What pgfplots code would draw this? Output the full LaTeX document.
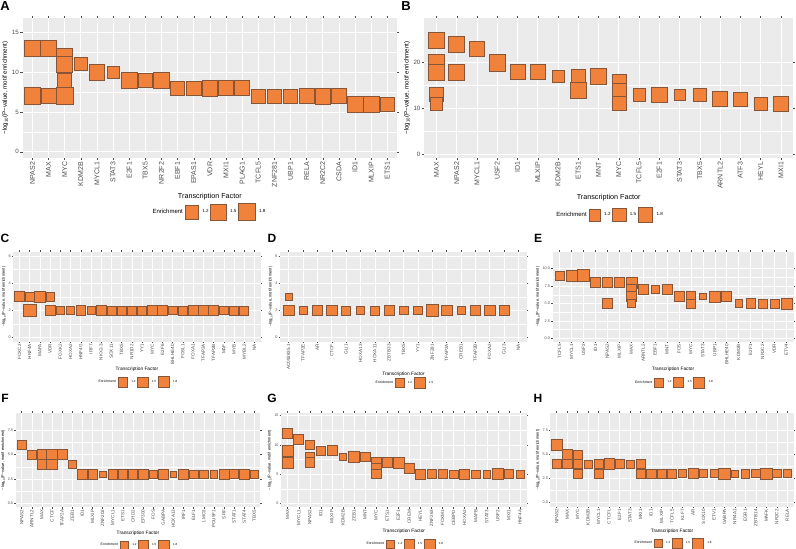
\documentclass[border=0pt]{standalone}
\usepackage{fontspec}
\setmainfont{Liberation Sans}
\usepackage{pgfplots}
\pgfplotsset{compat=1.18}
\definecolor{orc}{RGB}{241,130,60}
\definecolor{edgec}{RGB}{135,85,55}
\definecolor{bgc}{RGB}{235,235,235}
\definecolor{tickc}{RGB}{77,77,77}
\newcommand\ylab{−log\textsubscript{10}(P−value, motif enrichment)}
\pgfplotsset{
  panel/.style={
    scale only axis, clip=false,
    axis background/.style={fill=bgc},
    axis line style={draw=none},
    grid=both,
    major grid style={white, line width=0.6pt},
    minor grid style={white, line width=0.3pt},
    minor y tick num=1,
    tick align=outside,
    minor tick length=0pt,
    tick style={color=tickc, line width=0.4pt},
    xticklabel style={rotate=90, anchor=east, text=tickc, inner sep=1.5pt},
    yticklabel style={text=tickc, inner sep=1.5pt},
    xlabel={Transcription Factor}, ylabel={\ylab},
    legend columns=4,
    legend style={draw=none, fill=none, anchor=center,
      /tikz/every odd column/.append style={column sep=2pt}},
  },
  topp/.style={panel, major tick length=2.2pt,
    xticklabel style={font=\fontsize{7}{7}\selectfont},
    yticklabel style={font=\fontsize{6.2}{6.2}\selectfont},
    xlabel style={font=\fontsize{7.2}{7.2}\selectfont, inner sep=2pt, yshift=-2pt},
    ylabel style={font=\fontsize{6.2}{6.2}\selectfont, inner sep=2pt},
    legend style={font=\fontsize{4.5}{4.5}\selectfont}},
  botp/.style={panel, major tick length=1.3pt,
    major grid style={white, line width=0.45pt},
    minor grid style={white, line width=0.22pt},
    xticklabel style={font=\fontsize{4.6}{4.6}\selectfont, inner sep=1pt},
    yticklabel style={font=\fontsize{3.8}{3.8}\selectfont, inner sep=1pt},
    xlabel style={font=\fontsize{4.8}{4.8}\selectfont, inner sep=1.5pt},
    ylabel style={font=\fontsize{4}{4}\selectfont, inner sep=1.5pt},
    legend style={font=\fontsize{3}{3}\selectfont}},
  sq/.style={scatter, only marks, mark=square*, forget plot, line width=0.45pt,
    scatter/use mapped color={draw=edgec, fill=orc},
    visualization depends on={\thisrow{m}\as\ms},
    scatter/@pre marker code/.append style={/tikz/mark size=\ms pt}},
  lg/.style={only marks, mark=square*, mark size=#1, mark options={draw=edgec, fill=orc, line width=0.45pt}},
}
\begin{document}
\begin{tikzpicture}
\useasboundingbox (0,0) rectangle (796pt,-549pt);
% ---------------- A
\begin{axis}[topp, at={(22.7pt,-18pt)}, anchor=north west, width=374.3pt, height=140pt,
  xmin=-0.6, xmax=22.6, ymin=-0.79, ymax=16.8,
  xtick={0,...,22}, xticklabels={NPAS2,MAX,MYC,KDM2B,MYCL1,STAT3,E2F1,TBX5,NR2F2,EBF1,EPAS1,VDR,MXI1,PLAG1,TCFL5,ZNF281,UBP1,RELA,NR2C2,CSDA,ID1,MLXIP,ETS1},
  ytick={0,5,10,15}, yticklabels={0,5,10,15},
  legend style={at={(0.495,-0.386)}}]
\addlegendimage{empty legend}\addlegendentry{\fontsize{6}{6}\selectfont Enrichment}
\addlegendimage{lg=6.8pt}\addlegendentry{1.2}
\addlegendimage{lg=7.7pt}\addlegendentry{1.5}
\addlegendimage{lg=8.4pt}\addlegendentry{1.8}
\addplot[sq] table[x=x,y=y]{
x y m
0 13 8.3
0 7 8.3
1 13 7.8
1 7 7.7
2 12 8
2 11 8
2 9 7
2 7 8.3
3 11 6.5
4 10 7.8
5 10 6.2
6 9 8
7 9 7
8 9 8
9 8 7
10 8 7.2
11 8 7.8
12 8 7.5
13 8 7.5
14 7 7
15 7 7
16 7 7.2
17 7 7.3
18 7 7.8
19 7 7.3
20 6 7.8
21 6 7.8
22 6 7.2
};
\end{axis}
% ---------------- B
\begin{axis}[topp, at={(424.3pt,-18pt)}, anchor=north west, width=368.7pt, height=140pt,
  xmin=-0.6, xmax=17.6, ymin=-0.88, ymax=29.76,
  xtick={0,...,17}, xticklabels={MAX,NPAS2,MYCL1,USF2,ID1,MLXIP,KDM2B,ETS1,MNT,MYC,TCFL5,E2F1,STAT3,TBX5,ARNTL2,ATF3,HEYL,MXI1},
  ytick={0,10,20}, yticklabels={0,10,20},
  legend style={at={(0.5,-0.407)}}]
\addlegendimage{empty legend}\addlegendentry{\fontsize{6}{6}\selectfont Enrichment}
\addlegendimage{lg=5.8pt}\addlegendentry{1.2}
\addlegendimage{lg=6.6pt}\addlegendentry{1.5}
\addlegendimage{lg=7.3pt}\addlegendentry{1.8}
\addplot[sq] table[x=x,y=y]{
x y m
0 25 8
0 20 8
0 18 8
0 13 7
0 11 6.2
1 24 8
1 18 8
2 23 7.5
3 20 8.3
4 18 7.5
5 18 7.5
6 17 5.8
7 17 6.7
7 14 7.8
8 17 7.8
9 16 7
9 14 7
9 11 7
10 13 6.2
11 13 7.8
12 13 5.3
13 13 6.3
14 12 7.5
15 12 6.8
16 11 6.7
17 11 7.2
};
\end{axis}
% ---------------- C
\begin{axis}[botp, at={(13.3pt,-251.7pt)}, anchor=north west, width=247.2pt, height=90pt,
  xmin=-0.6, xmax=23.6, ymin=-0.3, ymax=6.3,
  xtick={0,...,23}, xticklabels={FOXC2,HNF4A,MAFA,VDR,FOXK2,HOXA2,HNF4G,IRF7,NKX2-3,SOX11,TBX5,NR1D2,YY1,MYC,E2F6,BHLHE40,FOSL1,FOXA1,TFAP2A,TFAP2B,MAF,MYB,MYBL2,NA},
  ytick={0,2,4,6}, yticklabels={0,2,4,6},
  legend style={at={(0.5,-0.45)}}]
\addlegendimage{empty legend}\addlegendentry{\fontsize{3.4}{3.4}\selectfont Enrichment}
\addlegendimage{lg=4.8pt}\addlegendentry{1.2}
\addlegendimage{lg=5.2pt}\addlegendentry{1.5}
\addlegendimage{lg=5.5pt}\addlegendentry{1.8}
\addplot[sq] table[x=x,y=y]{
x y m
0 3 5
1 3 4.2
1 2 6.2
2 3 5.5
3 3 4.2
3 2 5
4 2 4.3
5 2 4.2
6 2 4.7
7 2 4.2
8 2 5.2
9 2 4.5
10 2 4.5
11 2 4.5
12 2 4.5
13 2 5.3
14 2 4.8
15 2 4.2
16 2 4.5
17 2 4.7
18 2 4.7
19 2 5
20 2 4.3
21 2 4.5
22 2 4.5
};
\end{axis}
% ---------------- D
\begin{axis}[botp, at={(280pt,-251.7pt)}, anchor=north west, width=247pt, height=90pt,
  xmin=-0.6, xmax=16.6, ymin=-0.3, ymax=6.3,
  xtick={0,...,16}, xticklabels={AC092835.1,TFAP2E,AR,CTCF,GLI1,HOXA13,HOXA11,ZBTB33,TBX5,YY1,ZNF281,TFAP2A,CREB1,TFAP2B,FOXA2,GLI3,NA},
  ytick={0,2,4,6}, yticklabels={0,2,4,6},
  legend columns=3,
  legend style={at={(0.5,-0.46)}}]
\addlegendimage{empty legend}\addlegendentry{\fontsize{3.4}{3.4}\selectfont Enrichment}
\addlegendimage{lg=4.5pt}\addlegendentry{1.2}
\addlegendimage{lg=5.5pt}\addlegendentry{1.5}
\addplot[sq] table[x=x,y=y]{
x y m
0 3 3.7
0 2 5.3
1 2 4.2
2 2 4.7
3 2 5.3
4 2 4.5
5 2 4
6 2 4.5
7 2 5
8 2 4.3
9 2 4.2
10 2 5.8
11 2 5.3
12 2 3.8
13 2 4.7
14 2 5.3
15 2 5
};
\end{axis}
% ---------------- E
\begin{axis}[botp, at={(552.5pt,-251.7pt)}, anchor=north west, width=241pt, height=90pt,
  xmin=-0.6, xmax=19.6, ymin=-0.5, ymax=12.4,
  xtick={0,...,19}, xticklabels={TCFL5,MYCL1,USF2,ID1,NPAS2,MLXIP,MAX,ARNTL2,EBF1,MNT,FOS,MYC,STAT3,UBP1,BHLHE40,KDM2B,E2F1,NR2C2,VDR,ETV4},
  ytick={0,2.5,5,7.5,10}, yticklabels={0.0,2.5,5.0,7.5,10.0},
  legend style={at={(0.5,-0.455)}}]
\addlegendimage{empty legend}\addlegendentry{\fontsize{3.4}{3.4}\selectfont Enrichment}
\addlegendimage{lg=4.5pt}\addlegendentry{1.2}
\addlegendimage{lg=5pt}\addlegendentry{1.5}
\addlegendimage{lg=5.5pt}\addlegendentry{1.8}
\addplot[sq] table[x=x,y=y]{
x y m
0 9 4.7
1 9 5.3
2 9 5.8
3 8 5
4 8 5.3
4 5 5.3
5 8 5
6 8 5.5
6 7 4.7
6 6 4.7
6 5 4.3
7 7 5.3
8 7 4.2
9 7 5
10 6 5
11 6 4.8
11 5 4.5
12 6 3.3
13 6 5.5
14 6 5
15 5 3.7
16 5 4.8
17 5 4.5
18 5 4.5
19 5 5.5
};
\end{axis}
% ---------------- F
\begin{axis}[botp, at={(15.6pt,-412.7pt)}, anchor=north west, width=244.8pt, height=94.6pt,
  xmin=-0.6, xmax=23.6, ymin=-0.44, ymax=9.34,
  xtick={0,...,23}, xticklabels={NPAS2,ARNTL2,MAX,CTCF,TFAP2A,ZEB1,ID1,MLXIP,ZNF202,MYCL1,ETS1,CHD2,EP300,FOS,GABPA,HOXA13,IRF1,ELF1,LMO2,POU5F1,SRF,STAT1,STAT4,TBX5},
  ytick={0,2.5,5,7.5}, yticklabels={0.0,2.5,5.0,7.5},
  legend style={at={(0.5,-0.40)}}]
\addlegendimage{empty legend}\addlegendentry{\fontsize{3.4}{3.4}\selectfont Enrichment}
\addlegendimage{lg=4.2pt}\addlegendentry{1.2}
\addlegendimage{lg=4.8pt}\addlegendentry{1.5}
\addlegendimage{lg=5.4pt}\addlegendentry{1.8}
\addplot[sq] table[x=x,y=y]{
x y m
0 6 4.7
1 5 4.8
2 5 5
2 4 5
3 5 5.3
3 4 5.3
4 5 5
5 4 3.8
6 3 5
7 3 4.7
8 3 3.3
9 3 4.7
10 3 4.7
11 3 4.7
12 3 5.3
13 3 4.2
14 3 5.3
15 3 3.3
16 3 5
17 3 4.2
18 3 4.2
19 3 3.8
20 3 4.8
21 3 4.5
22 3 5.3
23 3 3.8
};
\end{axis}
% ---------------- G
\begin{axis}[botp, at={(281pt,-412.7pt)}, anchor=north west, width=245.6pt, height=94.6pt,
  xmin=-0.6, xmax=21.6, ymin=-0.7, ymax=15.5,
  xtick={0,...,21}, xticklabels={MAX,MYCL1,NPAS2,ID1,MLXIP,KDM2B,ZEB1,MNT,MYC,ETS1,E2F1,CREM,HEYL,ZNF263,FOXM1,CEBPD,HOXA2,MAFB,STAT3,USF2,MXI1,HNF4A},
  ytick={0,5,10,15}, yticklabels={0,5,10,15},
  legend style={at={(0.5,-0.39)}}]
\addlegendimage{empty legend}\addlegendentry{\fontsize{3.4}{3.4}\selectfont Enrichment}
\addlegendimage{lg=4.2pt}\addlegendentry{1.2}
\addlegendimage{lg=4.8pt}\addlegendentry{1.5}
\addlegendimage{lg=5.4pt}\addlegendentry{1.8}
\addplot[sq] table[x=x,y=y]{
x y m
0 12 5
0 9 5.8
0 7 5.5
1 11 5
2 10 4.7
2 8 4.7
2 7 4.7
3 9 4.7
4 9 5
5 8 3.7
6 8 5.3
7 8 4.7
8 7 4.7
8 6 4.7
8 5 4.7
9 7 4.7
10 7 5.5
11 6 4.7
12 5 5
13 5 4.5
14 5 4.3
15 5 4.2
16 5 5
17 5 4.2
18 5 3.8
19 5 5.3
20 5 4.7
21 5 4.2
};
\end{axis}
% ---------------- H
\begin{axis}[botp, at={(550.4pt,-412.7pt)}, anchor=north west, width=243.2pt, height=94pt,
  xmin=-0.6, xmax=22.6, ymin=-0.45, ymax=9.32,
  xtick={0,...,22}, xticklabels={NPAS2,MAX,MYC,KDM2B,MYCL1,CTCFL,E2F1,STAT3,MXI1,ID1,MLXIP,TCFL5,KLF7,AR,SOX10,ETV1,GABPA,NR4A1,EGR1,ZBTB14,MAFK,NR2C2,RELA},
  ytick={0,2.5,5,7.5}, yticklabels={0.0,2.5,5.0,7.5},
  legend style={at={(0.5,-0.39)}}]
\addlegendimage{empty legend}\addlegendentry{\fontsize{3.4}{3.4}\selectfont Enrichment}
\addlegendimage{lg=4.2pt}\addlegendentry{1.2}
\addlegendimage{lg=4.8pt}\addlegendentry{1.5}
\addlegendimage{lg=5.6pt}\addlegendentry{1.8}
\addplot[sq] table[x=x,y=y]{
x y m
0 6 5.3
0 4 4.3
1 5 5
1 4 4.7
2 5 4.5
2 4 4.5
2 3 4.5
3 4 4
4 4 4.3
4 3 4.3
5 4 5.3
6 4 4.2
7 4 4
8 4 4.7
8 3 4.7
9 3 4.7
10 3 4.7
11 3 4.7
12 3 4.2
13 3 5
14 3 4.2
15 3 4.2
16 3 5.7
17 3 3.7
18 3 4.3
19 3 4.2
20 3 5.7
21 3 4.2
22 3 4.2
};
\end{axis}
% panel letters
\node[font=\bfseries\fontsize{13}{13}\selectfont] at (5pt,-6pt) {A};
\node[font=\bfseries\fontsize{13}{13}\selectfont] at (406pt,-6pt) {B};
\node[font=\bfseries\fontsize{12}{12}\selectfont] at (5pt,-238pt) {C};
\node[font=\bfseries\fontsize{12}{12}\selectfont] at (272pt,-238pt) {D};
\node[font=\bfseries\fontsize{12}{12}\selectfont] at (538pt,-238pt) {E};
\node[font=\bfseries\fontsize{12}{12}\selectfont] at (5pt,-398pt) {F};
\node[font=\bfseries\fontsize{12}{12}\selectfont] at (272pt,-398pt) {G};
\node[font=\bfseries\fontsize{12}{12}\selectfont] at (538pt,-398pt) {H};
\end{tikzpicture}
\end{document}
